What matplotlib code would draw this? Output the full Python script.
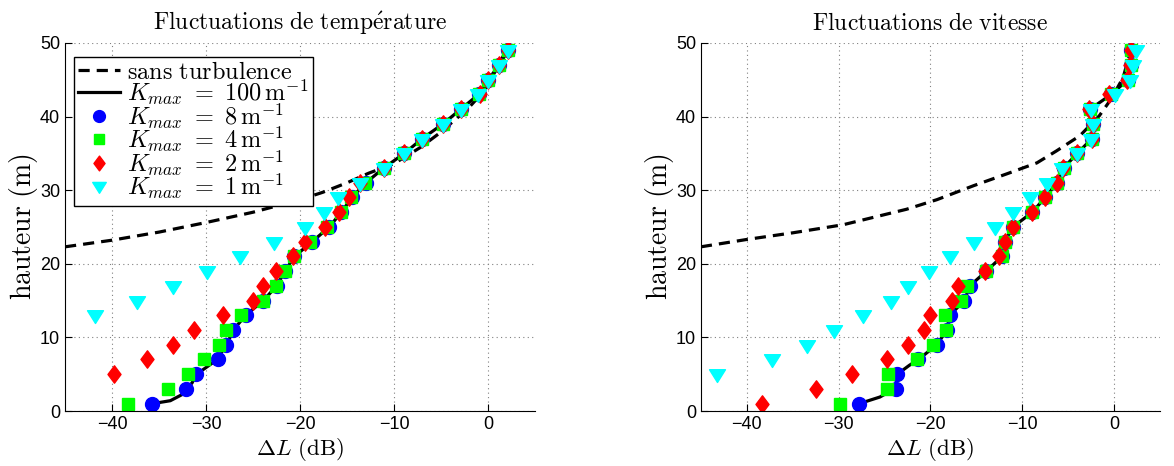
import numpy as np
import matplotlib
matplotlib.use('Agg')
import matplotlib.pyplot as plt
from matplotlib.path import Path

plt.rcParams['mathtext.fontset'] = 'cm'
plt.rcParams['font.family'] = ['Liberation Sans', 'DejaVu Sans']

# heights of the receivers (m)
heights = np.arange(1, 50, 2)

# ---------------- temperature fluctuations (left) ----------------
temp_k8 = [-35.7, -32.1, -31.1, -28.7, -27.9, -27.1, -25.8, -23.9, -22.5, -21.6,
           -20.6, -18.7, -16.9, -15.6, -14.5, -13.0, -11.1, -8.9, -7.0, -4.8,
           -2.9, -1.0, 0.0, 1.2, 2.1]
temp_k4 = [-38.3, -34.1, -31.9, -30.2, -28.6, -27.9, -26.3, -23.9, -22.6, -21.6,
           -20.6, -18.9, -17.1, -15.7, -14.6, -13.1, -11.1, -8.9, -7.0, -4.8,
           -2.9, -1.0, 0.0, 1.2, 2.1]
temp_k2_h = heights[2:]
temp_k2 = [-39.8, -36.3, -33.5, -31.3, -28.2, -25.0, -23.9, -22.6, -20.8, -19.5,
           -17.4, -15.9, -14.8, -13.6, -11.1, -8.9, -7.0, -4.8, -2.9, -0.9,
           0.0, 1.2, 2.1]
temp_k1_h = heights[6:]
temp_k1 = [-41.8, -37.3, -33.5, -29.9, -26.4, -22.8, -19.5, -17.5, -16.0, -13.6,
           -11.1, -8.9, -7.0, -4.8, -2.9, -1.1, 0.0, 1.2, 2.1]
temp_k100_h = [1.0, 1.4, 2.2, 3.0, 3.8, 5.0, 6.0, 7.0, 8.1, 9.0, 10.1, 11, 13, 15,
               17, 19, 21, 23, 25, 27, 29, 31, 33, 35, 37, 39, 41, 43, 45, 47,
               49, 49.5]
temp_k100 = [-35.7, -33.8, -32.6, -32.1, -31.5, -31.0, -29.9, -28.8, -28.3, -27.9,
             -27.4, -27.1, -25.8, -23.9, -22.5, -21.6, -20.6, -18.7, -16.9, -15.6,
             -14.5, -13.0, -11.1, -8.9, -7.0, -4.8, -2.9, -1.0, 0.0, 1.2, 2.1, 2.2]
temp_noturb = [-45, -40, -35, -30, -25, -20, -17.6, -15, -12.7, -10, -7.2, -5,
               -4.3, -2.2, -0.4, 0.7, 2.1]
temp_noturb_h = [22.3, 23.2, 24.3, 25.6, 27.0, 28.7, 29.7, 31.0, 32.3, 33.6, 35.8,
                 37.9, 38.7, 41.0, 43.5, 46.0, 49.4]

# ---------------- velocity fluctuations (right) ----------------
vit_k8 = [-27.75, -23.8, -23.6, -21.3, -19.3, -18.2, -17.9, -16.3, -15.7, -13.9,
          -12.2, -11.9, -11.0, -8.9, -7.5, -6.2, -5.5, -4.0, -2.4, -2.3,
          -2.6, -0.3, 1.5, 1.8, 1.9]
vit_k4 = [-29.8, -24.7, -24.6, -21.5, -19.7, -18.3, -18.4, -16.7, -16.0, -13.9,
          -12.2, -11.9, -11.0, -8.9, -7.5, -6.2, -5.5, -4.0, -2.4, -2.3,
          -2.6, -0.3, 1.5, 1.8, 1.9]
vit_k2 = [-38.3, -32.5, -28.5, -24.7, -22.4, -20.7, -20.0, -17.7, -17.0, -14.1,
          -12.5, -11.9, -11.0, -8.9, -7.5, -6.2, -5.6, -4.0, -2.4, -2.3,
          -2.7, -0.6, 1.4, 1.7, 1.8]
vit_k1_h = heights[2:]
vit_k1 = [-43.2, -37.3, -33.4, -30.5, -27.3, -24.3, -22.4, -20.2, -17.9, -15.3,
          -13.0, -11.0, -9.1, -7.3, -5.7, -4.0, -2.5, -2.3, -2.5, 0.1,
          1.7, 2.1, 2.4]
vit_k100_h = [1.0, 1.9, 2.6, 3.0, 4.0, 5.0, 6.2, 7, 9, 11, 13, 15, 17, 19, 21, 23,
              25, 27, 29, 31, 33, 35, 37, 39, 41, 43, 45, 47, 49, 49.5]
vit_k100 = [-27.75, -25.5, -24.5, -23.8, -23.7, -23.6, -22.3, -21.3, -19.3, -18.2,
            -17.9, -16.3, -15.7, -13.9, -12.2, -11.9, -11.0, -8.9, -7.5, -6.2,
            -5.5, -4.0, -2.4, -2.3, -2.6, -0.3, 1.5, 1.8, 1.9, 2.0]
vit_noturb = [-45, -40, -35, -29.5, -22.6, -19.3, -15.3, -11.7, -8.4, -6.3, -3.7,
              -1.6, -0.3, 1.0, 1.9]
vit_noturb_h = [22.3, 23.3, 24.2, 25.3, 27.4, 28.7, 30.6, 32.2, 33.7, 35.3, 37.4,
                40.1, 42.4, 45.3, 49.4]

labels = [r'$\mathrm{sans\ turbulence}$',
          r'$K_{max}\ =\ 100\,\mathrm{m}^{-1}$',
          r'$K_{max}\ =\ 8\,\mathrm{m}^{-1}$',
          r'$K_{max}\ =\ 4\,\mathrm{m}^{-1}$',
          r'$K_{max}\ =\ 2\,\mathrm{m}^{-1}$',
          r'$K_{max}\ =\ 1\,\mathrm{m}^{-1}$']

# matlab-like markers (wider diamond, flat triangle)
diamond = Path([(0, 1), (0.75, 0), (0, -1), (-0.75, 0), (0, 1)], closed=True)
triangle = Path([(-1, 0.6), (1, 0.6), (0, -1.0), (-1, 0.6)], closed=True)


def draw_panel(ax, noturb, noturb_h, k100, k100_h, k8, k4, k2, k2_h, k1, k1_h, title):
    ax.plot(noturb, noturb_h, '--', color='k', lw=2.3, dashes=(3.5, 2.2), label=labels[0])
    ax.plot(k100, k100_h, '-', color='k', lw=2.3, label=labels[1])
    ax.plot(k8, heights, 'o', color='#0000ff', ms=10, mec='#0000ff', label=labels[2])
    ax.plot(k4, heights, 's', color='#00ff00', ms=8.5, mec='#00ff00', label=labels[3])
    ax.plot(k2, k2_h, marker=diamond, ls='none', color='#ff0000', ms=12.5,
            mec='#ff0000', label=labels[4])
    ax.plot(k1, k1_h, marker=triangle, ls='none', color='#00ffff', ms=11.5,
            mec='#00ffff', label=labels[5])

    ax.set_xlim(-45, 5)
    ax.set_ylim(0, 50)
    ax.set_xticks([-40, -30, -20, -10, 0])
    ax.set_yticks([0, 10, 20, 30, 40, 50])
    ax.grid(True, linestyle=(0, (1, 3)), color='#808080', lw=0.8)
    ax.spines['top'].set_visible(False)
    ax.spines['right'].set_visible(False)
    ax.tick_params(direction='in', length=5, labelsize=13)
    ax.set_title(title, fontsize=17, pad=9)
    ax.set_xlabel(r'$\Delta L\ \mathrm{(dB)}$', fontsize=16.5, labelpad=2)
    ax.set_ylabel(r'$\mathrm{hauteur\ (m)}$', fontsize=20, labelpad=0)


fig = plt.figure(figsize=(11.74, 4.66), dpi=100)
ax1 = fig.add_axes([0.0554, 0.118, 0.4004, 0.79])
ax2 = fig.add_axes([0.597, 0.118, 0.391, 0.79])

draw_panel(ax1, temp_noturb, temp_noturb_h, temp_k100, temp_k100_h, temp_k8, temp_k4,
           temp_k2, temp_k2_h, temp_k1, temp_k1_h,
           r'$\mathrm{Fluctuations\ de\ temp\acute{e}rature}$')
draw_panel(ax2, vit_noturb, vit_noturb_h, vit_k100, vit_k100_h, vit_k8, vit_k4,
           vit_k2, heights, vit_k1, vit_k1_h,
           r'$\mathrm{Fluctuations\ de\ vitesse}$')

leg = ax1.legend(loc='upper left', bbox_to_anchor=(0.0, 0.985), fontsize=17.5,
                 fancybox=False, framealpha=1, edgecolor='k', handlelength=1.7,
                 handletextpad=0.3, labelspacing=-0.25, borderpad=0.2,
                 borderaxespad=0.35, markerscale=0.85)
leg.get_frame().set_linewidth(1.0)

fig.savefig('out.png', dpi=100)
